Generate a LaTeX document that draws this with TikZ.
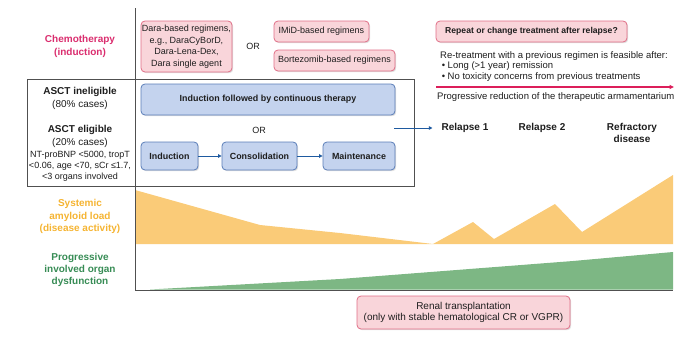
\documentclass[tikz,border=0pt]{standalone}
\usepackage{fontspec}
\setmainfont{Liberation Sans}
\usetikzlibrary{shadows,arrows.meta}
\definecolor{pinkfill}{RGB}{249,213,218}
\definecolor{pinkline}{RGB}{224,110,135}
\definecolor{bluefill}{RGB}{196,211,238}
\definecolor{blueline}{RGB}{90,125,184}
\definecolor{arrowblue}{RGB}{30,90,160}
\definecolor{chemo}{RGB}{218,45,110}
\definecolor{redarrow}{RGB}{220,30,90}
\definecolor{amyloid}{RGB}{250,203,120}
\definecolor{amyloidtxt}{RGB}{245,180,50}
\definecolor{organ}{RGB}{125,183,132}
\definecolor{organtxt}{RGB}{55,140,85}
\definecolor{framegray}{RGB}{80,80,80}
\definecolor{txt}{RGB}{30,30,30}
\begin{document}
\begin{tikzpicture}[x=1pt,y=-1pt,
  every node/.style={text=txt},
  basebox/.style={rectangle, rounded corners=4pt, inner sep=0pt, align=center, line width=0.8pt,
    drop shadow={shadow xshift=1.2pt, shadow yshift=-1.2pt, opacity=0.25}},
  pinkbox/.style={basebox, draw=pinkline, fill=pinkfill, font=\fontsize{9}{11.5}\selectfont},
  bluebox/.style={basebox, draw=blueline, fill=bluefill, font=\bfseries\fontsize{8.9}{10}\selectfont},
  lbl/.style={align=center, inner sep=0pt},
  flowarrow/.style={draw=arrowblue, line width=1pt, -{Triangle[length=3.5pt,width=3.5pt]}},
  frame/.style={draw=framegray, line width=0.8pt}
]
\useasboundingbox (0,0) rectangle (680,340);

% graph areas
\fill[amyloid] (135,190) -- (260,225) -- (340,233) -- (433,244) -- (473,222) -- (494,239)
  -- (555,204) -- (582,232) -- (673,175) -- (673,244) -- (135,244) -- cycle;
\fill[organ] (150,289.5) -- (340,279) -- (573,261) -- (673,252) -- (673,289.5) -- cycle;

% frame and axes
\draw[frame] (27,79) rectangle (414,186);
\draw[frame] (135,8) -- (135,290) -- (673,290);

% left labels
\node[lbl, text=chemo, font=\bfseries\fontsize{10}{12.5}\selectfont] (chemolbl) at (80,46.5) {Chemotherapy\\(induction)};
\node[lbl, font=\fontsize{10}{12.5}\selectfont] (inel) at (80,98.5) {\textbf{ASCT ineligible}\\(80\% cases)};
\node[lbl, font=\fontsize{10}{12.5}\selectfont] (el) at (80,136.5) {\textbf{ASCT eligible}\\(20\% cases)};
\node[lbl, font=\fontsize{9}{11}\selectfont] (crit) at (80,166) {NT-proBNP <5000, tropT\\<0.06, age <70, sCr ≤1.7,\\<3 organs involved};
\node[lbl, text=amyloidtxt, font=\bfseries\fontsize{10}{12.5}\selectfont] (amylbl) at (80,216.5) {Systemic\\amyloid load\\(disease activity)};
\node[lbl, text=organtxt, font=\bfseries\fontsize{10}{12}\selectfont] (orglbl) at (80,270) {Progressive\\involved organ\\dysfunction};

% chemo boxes
\node[pinkbox, minimum width=91pt, minimum height=51pt] (dara) at (186.5,46.5) {Dara-based regimens,\\e.g., DaraCyBorD,\\Dara-Lena-Dex,\\Dara single agent};
\node[lbl, font=\fontsize{9}{10}\selectfont] (or1) at (253,46) {OR};
\node[pinkbox, minimum width=95pt, minimum height=21pt] (imid) at (321.5,31.5) {IMiD-based regimens};
\node[pinkbox, minimum width=121pt, minimum height=21pt] (bort) at (334.5,60.5) {Bortezomib-based regimens};

% therapy boxes
\node[bluebox, minimum width=254pt, minimum height=31pt] (cont) at (268,99.5) {Induction followed by continuous therapy};
\node[lbl, font=\fontsize{9}{10}\selectfont] (or2) at (259,130) {OR};
\node[bluebox, minimum width=57pt, minimum height=28pt] (ind) at (169.5,156) {Induction};
\node[bluebox, minimum width=75pt, minimum height=28pt] (cons) at (259.5,156) {Consolidation};
\node[bluebox, minimum width=72pt, minimum height=28pt] (maint) at (359,156) {Maintenance};
\draw[flowarrow] (ind) -- (cons);
\draw[flowarrow] (cons) -- (maint);

% relapse
\node[lbl, font=\bfseries\fontsize{10}{12}\selectfont] (rel1) at (465,128) {Relapse 1};
\node[lbl, font=\bfseries\fontsize{10}{12}\selectfont] (rel2) at (542,128) {Relapse 2};
\node[lbl, font=\bfseries\fontsize{10}{12}\selectfont] (refr) at (632,133) {Refractory\\disease};
\coordinate (arrstart) at (394,128);
\draw[flowarrow] (arrstart) -- ([xshift=-9pt]rel1.west);

% repeat
\node[pinkbox, font=\bfseries\fontsize{8.6}{10}\selectfont, minimum width=191pt, minimum height=21pt] (rep) at (531.5,31.5) {Repeat or change treatment after relapse?};
\node[lbl, anchor=north west, align=left, font=\fontsize{9.5}{10.5}\selectfont] (retreat) at (440,51) {Re-treatment with a previous regimen is feasible after:\\[-0.5pt]
\,• Long (>1 year) remission\\[0.5pt]
\,• No toxicity concerns from previous treatments};
\coordinate (redstart) at (436,87);
\coordinate (redend) at (674,87);
\draw[color=redarrow, line width=1.2pt, -{Triangle[length=4.5pt,width=4pt]}] (redstart) -- (redend);
\node[lbl, anchor=west, font=\fontsize{9.5}{10}\selectfont] (prog) at (437,97.5) {Progressive reduction of the therapeutic armamentarium};

% renal
\node[pinkbox, font=\fontsize{10}{11.5}\selectfont, minimum width=213pt, minimum height=33pt] (renal) at (463.5,312.5) {Renal transplantation\\(only with stable hematological CR or VGPR)};
\end{tikzpicture}
\end{document}
